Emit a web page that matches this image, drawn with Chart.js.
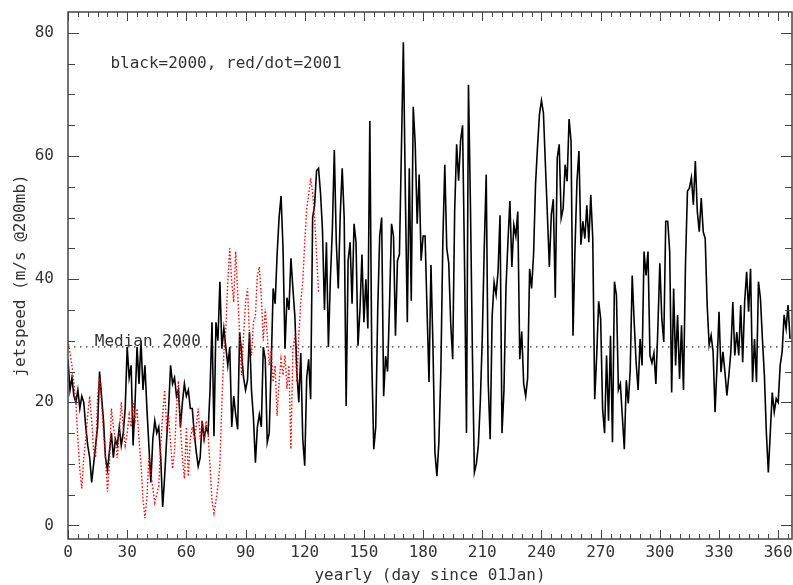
<!DOCTYPE html>
<html>
<head>
<meta charset="utf-8">
<title>jetspeed 2000 / 2001</title>
<script src="https://cdn.jsdelivr.net/npm/chart.js@4.4.0/dist/chart.umd.min.js"></script>
<style>
  html, body { margin: 0; padding: 0; background: #fff; }
  #chart { display: block; }
</style>
</head>
<body>
<canvas id="chart" width="793" height="585"></canvas>
<script>
// daily jetspeed (m/s @200mb), day 0 = 01 Jan
const speed2000 = [
  27, 22, 24, 21, 20, 22, 19, 21, 20, 16,
  13, 11, 7, 10, 13, 16, 25, 21, 17, 11,
  9, 12, 15, 11, 14, 13, 16, 13, 15, 19,
  29, 24, 26, 13, 20, 29, 23, 30, 22, 26,
  19, 13, 7, 14, 17, 15, 16, 11, 3, 8,
  14, 19, 26, 23, 24, 21, 22, 16, 20, 23,
  21, 22, 19, 19, 15, 12, 9.6, 11, 17, 14,
  16, 15, 22, 33, 14.5, 33, 30, 39.6, 28.7, 32,
  29, 26, 29, 16, 21, 18, 15.6, 31.4, 28, 24,
  22, 23.6, 31.4, 22, 17.5, 10.2, 16, 18, 16, 29,
  27, 13.5, 15, 26, 38.5, 36, 44, 50, 53.5, 45,
  28.7, 37, 35, 43.4, 38.5, 34, 25, 20, 28, 14,
  9.7, 24, 27, 20.5, 50, 52, 57.6, 58, 54, 48,
  35, 46, 29, 40, 48, 61, 46, 38.5, 50.4, 58,
  50, 19.4, 43, 46, 36, 49, 46, 29.2, 35, 44,
  33, 40, 32, 65.7, 26.6, 12.4, 16, 35, 47, 50,
  21, 27.5, 25, 36, 49, 47, 30.8, 43, 44, 60.8,
  78.5, 54, 33, 58, 36.5, 68, 62, 49, 57, 43,
  47, 47, 35, 23.3, 42.3, 29, 11.9, 8, 13.5, 25,
  46, 58.6, 45, 42.6, 32.8, 27, 51, 61.9, 56, 62.5,
  65, 42.6, 15, 71.6, 52, 28, 8.6, 10, 13, 20,
  30.5, 45, 57, 23.3, 14, 34, 39.5, 37.5, 41.3, 50.4,
  15, 22, 38.5, 46, 52.7, 42, 48.8, 47, 51, 27,
  31.5, 23, 21, 24, 41.7, 38.5, 44, 55.4, 61.5, 66.8,
  69, 67, 58.6, 50.5, 42, 50.5, 53, 37, 59.7, 61.9,
  49.9, 51.5, 58.6, 55.9, 66, 62.4, 30.8, 45, 55.9, 60.8,
  45.6, 49.4, 46.6, 52, 46, 53.7, 46.6, 20.5, 27.6, 36.4,
  33.6, 18.9, 15, 27.6, 17, 30.8, 13.5, 39.6, 37.4, 22,
  23, 17.7, 12.4, 23.6, 19.8, 25.3, 40.6, 33, 26.4, 22,
  30.3, 26, 44.5, 40.6, 44.5, 27.6, 26.4, 28, 23, 32,
  42.6, 33.6, 29.8, 49.4, 49.4, 44.5, 21.6, 38.5, 26, 34.2,
  23.8, 32.5, 22, 42.3, 54.3, 54.8, 56.5, 52.1, 59.2, 51,
  47.7, 53.2, 47.7, 46.6, 35.8, 29.3, 30.9, 28.2, 18.4, 26,
  34.7, 24.9, 28.2, 24.9, 21.1, 24.4, 28.2, 36.3, 27.6, 31.4,
  27.6, 35.8, 26.5, 36.3, 41.2, 34.7, 41.7, 23.3, 30.3, 23.3,
  39.6, 36.9, 30.3, 24.4, 15.1, 8.6, 15.1, 21.6, 18.4, 20.6,
  20, 26, 28.2, 34.2, 32, 35.8, 30.3
];

const speed2001 = [
  30, 28, 26, 23, 20, 14, 9, 6, 11, 14,
  18, 21, 17, 12, 11, 21, 24, 20, 15, 11,
  5.5, 10, 19, 16, 14, 11, 15, 20, 16, 13,
  15, 18, 16, 20, 17, 19, 14, 10, 4.3, 1.2,
  4.5, 11, 8.6, 6, 3.7, 5, 6.4, 13, 18, 22,
  16, 17.8, 13.5, 9.2, 12, 19, 23.5, 16, 11, 7.6,
  16, 8, 14, 16, 14, 16, 19, 14, 17, 13.5,
  17, 15, 9.6, 4, 2, 4, 6.4, 10, 20, 28,
  32, 39.6, 45, 39.6, 36.3, 44.5, 38, 30.9, 24.4, 30.9,
  36.3, 38.5, 30.9, 27.6, 33, 34, 40.7, 42, 37, 30,
  35.2, 30.9, 26, 28.7, 23.3, 26, 17.8, 23.3, 27, 24.4,
  27.6, 22.2, 26, 12.4, 28.7, 30.9, 23.3, 30.9, 36.3, 39.6,
  46, 51.5, 53.7, 56.4, 54, 50, 44, 38
];

const median2000 = 29;
const xTickValues = [0, 30, 60, 90, 120, 150, 180, 210, 240, 270, 300, 330, 360];
const yTickValues = [0, 20, 40, 60, 80];
const legendText = "black=2000, red/dot=2001";
const medianText = "Median 2000";
const xTitle = "yearly (day since 01Jan)";
const yTitle = "jetspeed (m/s @200mb)";

const FONT = "16px 'DejaVu Sans Mono'";
const INK = "#333";

Chart.defaults.font.family = "'DejaVu Sans Mono'";
Chart.defaults.font.size = 16;
Chart.defaults.color = INK;

// frame, inward ticks on all four sides, titles and text notes
const framePlugin = {
  id: "frame",
  afterDraw(chart) {
    const { ctx, chartArea: a, scales } = chart;
    const xs = scales.x, ys = scales.y;
    ctx.save();
    ctx.strokeStyle = "#444";
    ctx.lineWidth = 1;
    ctx.beginPath();
    for (let d = 0; d <= 365; d += 5) {
      const px = Math.round(xs.getPixelForValue(d)) + 0.5;
      const len = d % 30 === 0 ? 9 : 5;
      ctx.moveTo(px, a.bottom); ctx.lineTo(px, a.bottom - len);
      ctx.moveTo(px, a.top); ctx.lineTo(px, a.top + len);
    }
    for (let v = 0; v <= 80; v += 5) {
      const py = Math.round(ys.getPixelForValue(v)) + 0.5;
      const len = v % 20 === 0 ? 11 : 7;
      ctx.moveTo(a.left, py); ctx.lineTo(a.left + len, py);
      ctx.moveTo(a.right, py); ctx.lineTo(a.right - len, py);
    }
    ctx.stroke();
    ctx.lineWidth = 1.5;
    ctx.strokeRect(a.left, a.top, a.right - a.left, a.bottom - a.top);

    ctx.fillStyle = INK;
    ctx.font = FONT;
    ctx.textBaseline = "alphabetic";
    ctx.textAlign = "left";
    ctx.fillText(legendText, xs.getPixelForValue(21.5), ys.getPixelForValue(74.3));
    ctx.fillText(medianText, xs.getPixelForValue(13.6), ys.getPixelForValue(median2000) - 1);

    ctx.textAlign = "center";
    ctx.fillText(xTitle, (a.left + a.right) / 2, 580);
    ctx.translate(21, (a.top + a.bottom) / 2);
    ctx.rotate(-Math.PI / 2);
    ctx.textBaseline = "middle";
    ctx.fillText(yTitle, 0, 0);
    ctx.restore();
  }
};

const ctx = document.getElementById("chart").getContext("2d");
new Chart(ctx, {
  type: "line",
  data: {
    datasets: [
      {
        label: "2001",
        data: speed2001.map((v, i) => ({ x: i, y: v })),
        borderColor: "#ff0000",
        borderWidth: 1.4,
        borderDash: [1.5, 2],
        pointRadius: 0,
        tension: 0,
      },
      {
        label: "2000",
        data: speed2000.map((v, i) => ({ x: i, y: v })),
        borderColor: "#000",
        borderWidth: 1.6,
        pointRadius: 0,
        tension: 0,
      },
      {
        label: "median",
        data: [{ x: 0, y: median2000 }, { x: 367, y: median2000 }],
        borderColor: "#000",
        borderWidth: 1,
        borderDash: [1.5, 4.5],
        pointRadius: 0,
      },
    ],
  },
  options: {
    responsive: false,
    animation: false,
    devicePixelRatio: 1,
    layout: { autoPadding: false, padding: { top: 12, right: 1, left: 0, bottom: 0 } },
    plugins: { legend: { display: false }, tooltip: { enabled: false } },
    scales: {
      x: {
        type: "linear",
        min: 0,
        max: 367,
        grid: { display: false, drawTicks: false },
        border: { display: false },
        ticks: { padding: 4, maxRotation: 0, autoSkip: false },
        afterBuildTicks: (s) => { s.ticks = xTickValues.map((v) => ({ value: v })); },
        afterFit: (s) => { s.height = 46; s.paddingLeft = 0; s.paddingRight = 0; },
      },
      y: {
        min: -2.2,
        max: 83.4,
        grid: { display: false, drawTicks: false },
        border: { display: false },
        ticks: { padding: 14 },
        afterBuildTicks: (s) => { s.ticks = yTickValues.map((v) => ({ value: v })); },
        afterFit: (s) => { s.width = 68; s.paddingTop = 0; s.paddingBottom = 0; },
      },
    },
  },
  plugins: [framePlugin],
});
</script>
</body>
</html>
